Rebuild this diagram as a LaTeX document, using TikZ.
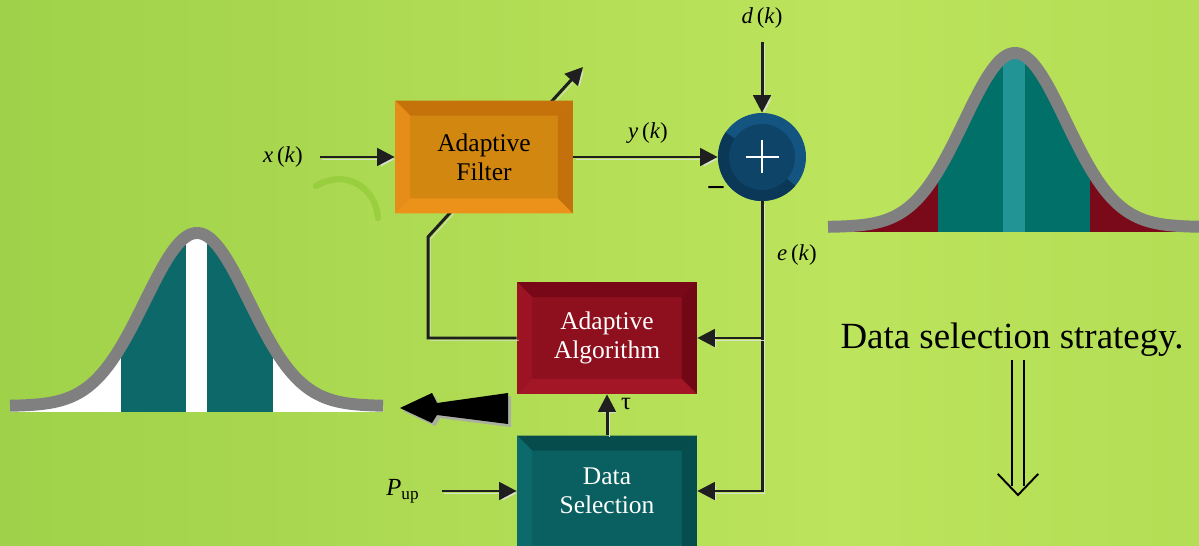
\documentclass[tikz,border=0pt]{standalone}
\usepackage{fontspec}
\setmainfont{Liberation Serif}
\usetikzlibrary{arrows.meta,positioning}

\definecolor{bgleft}{RGB}{138,196,60}
\definecolor{bgmid}{RGB}{188,228,92}
\definecolor{bgright}{RGB}{165,212,72}
\definecolor{bgarc}{RGB}{140,200,50}
\definecolor{linesh}{RGB}{215,225,205}
\definecolor{wedgesh}{RGB}{170,175,160}
\definecolor{bellgray}{RGB}{128,128,128}
\definecolor{bellteal}{RGB}{13,105,105}
\definecolor{rteal}{RGB}{0,112,104}
\definecolor{rlight}{RGB}{34,148,150}
\definecolor{rred}{RGB}{122,10,26}
% block colours: centre, top, left, bottom, right
\definecolor{orC}{RGB}{210,136,16}
\definecolor{orT}{RGB}{198,114,10}
\definecolor{orL}{RGB}{230,140,24}
\definecolor{orB}{RGB}{236,146,26}
\definecolor{orR}{RGB}{196,112,12}
\definecolor{rdC}{RGB}{142,16,30}
\definecolor{rdT}{RGB}{120,8,24}
\definecolor{rdL}{RGB}{156,20,36}
\definecolor{rdB}{RGB}{162,22,38}
\definecolor{rdR}{RGB}{114,8,22}
\definecolor{tlC}{RGB}{10,96,96}
\definecolor{tlT}{RGB}{6,76,76}
\definecolor{tlL}{RGB}{12,106,106}
\definecolor{tlB}{RGB}{12,106,106}
\definecolor{tlR}{RGB}{6,78,78}
\definecolor{sumring}{RGB}{20,84,128}
\definecolor{sumdark}{RGB}{11,56,86}
\definecolor{suminner}{RGB}{14,68,104}

\pgfdeclarehorizontalshading{bgshade}{100bp}{color(0bp)=(bgleft); color(60bp)=(bgmid); color(100bp)=(bgright)}

\begin{document}
\begin{tikzpicture}[x=0.02cm, y=-0.02cm,
  declare function={gl(\x)=406-173*exp(-((\x-197)/52)*((\x-197)/52)/2);
                    gr(\x)=227-174*exp(-((\x-1015)/51)*((\x-1015)/51)/2);},
  sig/.style={line width=1.7pt, draw=black!88,
    preaction={draw=linesh, transform canvas={shift={(1.3pt,-1.3pt)}}}},
  sigarrow/.style={sig, -{Triangle[length=10pt,width=10pt]}},
  lbl/.style={font=\fontsize{13}{15}\selectfont},
  bell/.style={line width=6.8pt, draw=bellgray},
  block/.style n args={5}{fill=#1, minimum width=3.6cm, minimum height=2.24cm,
    inner sep=0pt, align=center, font=\fontsize{14.5}{16.5}\selectfont,
    path picture={
      \fill[#2] (path picture bounding box.north west) -- (path picture bounding box.north east)
        -- ([shift={(-0.3cm,-0.3cm)}]path picture bounding box.north east)
        -- ([shift={(0.3cm,-0.3cm)}]path picture bounding box.north west) -- cycle;
      \fill[#3] (path picture bounding box.north west) -- (path picture bounding box.south west)
        -- ([shift={(0.3cm,0.3cm)}]path picture bounding box.south west)
        -- ([shift={(0.3cm,-0.3cm)}]path picture bounding box.north west) -- cycle;
      \fill[#4] (path picture bounding box.south west) -- (path picture bounding box.south east)
        -- ([shift={(-0.3cm,0.3cm)}]path picture bounding box.south east)
        -- ([shift={(0.3cm,0.3cm)}]path picture bounding box.south west) -- cycle;
      \fill[#5] (path picture bounding box.north east) -- (path picture bounding box.south east)
        -- ([shift={(-0.3cm,0.3cm)}]path picture bounding box.south east)
        -- ([shift={(-0.3cm,-0.3cm)}]path picture bounding box.north east) -- cycle;
    }}]

  % background
  \useasboundingbox (0,0) rectangle (1199,546);
  \shade[shading=bgshade] (0,0) rectangle (1199,546);
  \draw[bgarc, opacity=0.55, line width=3.6pt, line cap=round] (316,186) .. controls (346,168) and (376,188) .. (378,218);

  % left bell
  \fill[white] plot[domain=10:383, samples=120] (\x,{gl(\x)}) -- (383,412) -- (10,412) -- cycle;
  \begin{scope}
    \clip plot[domain=10:383, samples=120] (\x,{gl(\x)}) -- (383,412) -- (10,412) -- cycle;
    \fill[bellteal] (121,200) rectangle (186,412);
    \fill[bellteal] (207,200) rectangle (273,412);
  \end{scope}
  \draw[bell] plot[domain=10:383, samples=120] (\x,{gl(\x)});

  % right bell
  \begin{scope}
    \clip plot[domain=828:1215, samples=120] (\x,{gr(\x)}) -- (1215,232) -- (828,232) -- cycle;
    \fill[rred] (828,40) rectangle (1215,232);
    \fill[rteal] (938,40) rectangle (1090,232);
    \fill[rlight] (1003,40) rectangle (1025,232);
  \end{scope}
  \draw[bell] plot[domain=828:1215, samples=120] (\x,{gr(\x)});

  % wide arrow to the left bell
  \fill[wedgesh, transform canvas={shift={(1.8pt,-1.8pt)}}] (400,408) -- (432,393) -- (437,403) -- (508,393) -- (508,424) -- (437,415) -- (432,423) -- cycle;
  \fill[black] (400,408) -- (432,393) -- (437,403) -- (508,393) -- (508,424) -- (437,415) -- (432,423) -- cycle;

  % blocks
  \coordinate (fbk) at (428,237);
  \coordinate (tune) at (583,67);
  \coordinate (ebot) at (762,491);
  \node[block={rdC}{rdT}{rdL}{rdB}{rdR}, text=white] (alg) at (607,338) {Adaptive\\Algorithm};
  \node[block={tlC}{tlT}{tlL}{tlB}{tlR}, text=white, minimum height=2.5cm, text depth=0.28cm] (sel) at (607,498) {Data\\Selection};
  % adaptation path runs under the filter
  \draw[sigarrow] (alg.west) -| (fbk) -- (tune);
  \node[block={orC}{orT}{orL}{orB}{orR}, minimum width=3.56cm, minimum height=2.26cm] (filt) at (484,157) {Adaptive\\Filter};

  % summing junction
  \node[circle, fill=sumring, minimum size=1.76cm, inner sep=0pt] (sum) at (762,157) {};
  \begin{scope}[shift={(sum.center)}, x=1cm, y=1cm]
    \fill[sumdark] (0,0) -- (146:0.88) arc[start angle=146, end angle=319, radius=0.88] -- cycle;
    \fill[suminner] (0,0) circle (0.66);
    \draw[white, line width=1.2pt] (-0.33,0) -- (0.33,0) (0,-0.33) -- (0,0.33);
  \end{scope}

  % labels
  \node[lbl] (xk) at (283,157) {\textit{x}\,(\textit{k})};
  \node[lbl] (yk) at (648,133) {\textit{y}\,(\textit{k})};
  \node[lbl] (dk) at (762,18) {\textit{d}\,(\textit{k})};
  \node[lbl] (ek) at (797,255) {\textit{e}\,(\textit{k})};
  \node[font=\fontsize{14}{16}\selectfont] (tau) at (626,404) {τ};
  \node[font=\fontsize{14}{16}\selectfont] (pup) at (403,491) {\textit{P}\textsubscript{up}};
  \node[font=\fontsize{17}{18}\selectfont\bfseries] (minus) at (716,191) {–};

  % signal paths
  \draw[sigarrow] (xk.east) ++(6pt,0) -- (filt.west);
  \draw[sigarrow] (filt.east) -- (sum.west);
  \draw[sigarrow] ([yshift=-4pt]dk.south) -- (sum.north);
  \draw[sigarrow] (sum.south) |- (ebot) -- (ebot -| sel.east);
  \draw[sigarrow] (sum.south |- alg.east) -- (alg.east);
  \draw[sigarrow] (sel.north) -- (alg.south);
  \draw[sigarrow] (pup.east) ++(9pt,0) -- (pup.east -| sel.west);

  % strategy
  \node[font=\fontsize{21}{24}\selectfont] (dss) at (1012,340) {Data selection strategy.};
  \coordinate (dstip) at (1018,495);
  \draw[line width=1.1pt] (1012,360) -- (1012,486) (1024,360) -- (1024,486);
  \draw[line width=1.1pt] ([shift={(-11.5pt,12pt)}]dstip) -- (dstip) -- ([shift={(11.5pt,12pt)}]dstip);
\end{tikzpicture}
\end{document}
